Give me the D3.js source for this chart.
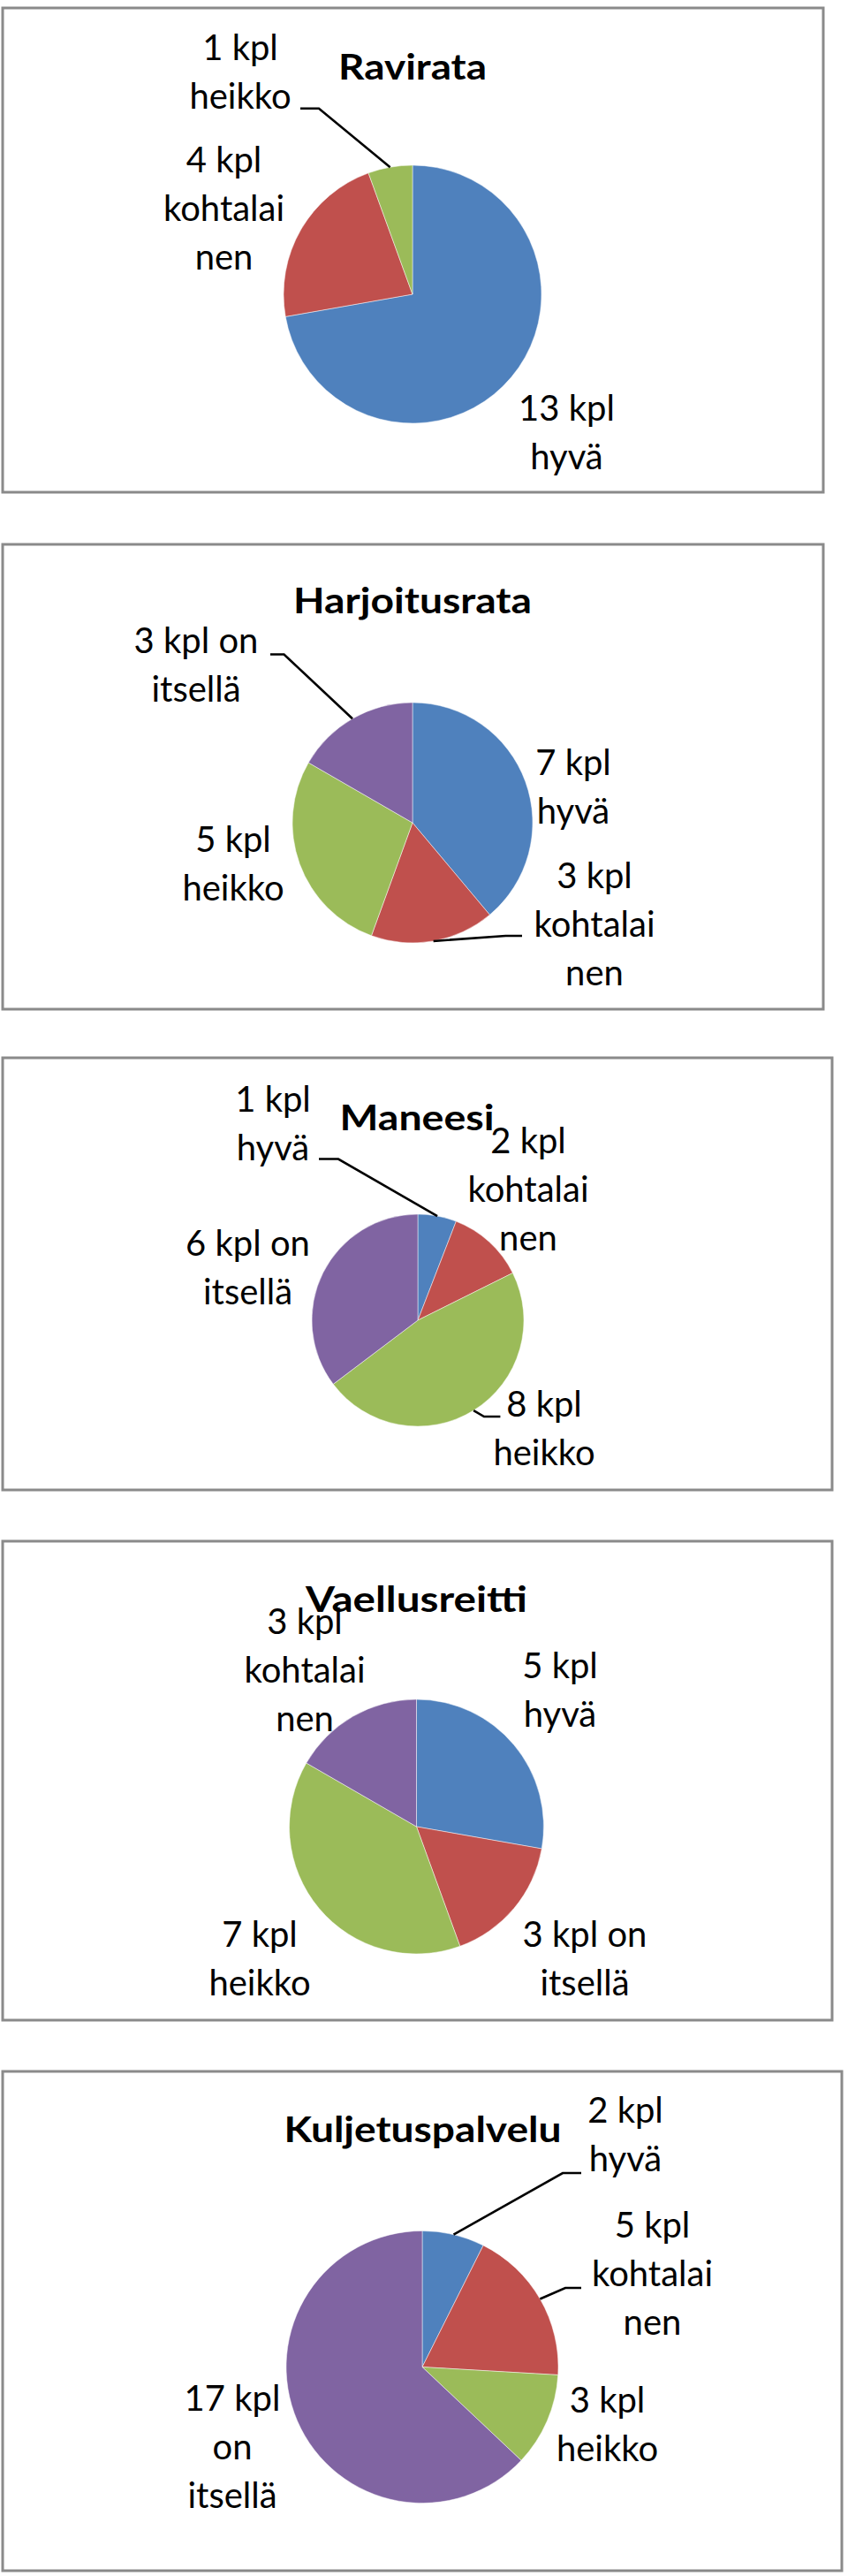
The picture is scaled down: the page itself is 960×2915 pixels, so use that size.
<!DOCTYPE html>
<html>
<head>
<meta charset="utf-8">
<script src="https://cdn.jsdelivr.net/npm/d3@7"></script>
<style>
  html, body { margin: 0; padding: 0; background: #ffffff; }
  svg { display: block; }
  text { font-family: Lato, "Open Sans", sans-serif; fill: #000; }
</style>
</head>
<body>
<div id="chart"></div>
<script>
// ---------------- DATA ----------------
const titles = ["Ravirata", "Harjoitusrata", "Maneesi", "Vaellusreitti", "Kuljetuspalvelu"];

const ravirataValues = [13, 4, 1];
const ravirataLabels = ["13 kpl\nhyvä", "4 kpl\nkohtalai\nnen", "1 kpl\nheikko"];

const harjoitusrataValues = [7, 3, 5, 3];
const harjoitusrataLabels = ["7 kpl\nhyvä", "3 kpl\nkohtalai\nnen", "5 kpl\nheikko", "3 kpl on\nitsellä"];

const maneesiValues = [1, 2, 8, 6];
const maneesiLabels = ["1 kpl\nhyvä", "2 kpl\nkohtalai\nnen", "8 kpl\nheikko", "6 kpl on\nitsellä"];

const vaellusreittiValues = [5, 3, 7, 3];
const vaellusreittiLabels = ["5 kpl\nhyvä", "3 kpl on\nitsellä", "7 kpl\nheikko", "3 kpl\nkohtalai\nnen"];

const kuljetusValues = [2, 5, 3, 17];
const kuljetusLabels = ["2 kpl\nhyvä", "5 kpl\nkohtalai\nnen", "3 kpl\nheikko", "17 kpl\non\nitsellä"];

const seriesValues = [ravirataValues, harjoitusrataValues, maneesiValues, vaellusreittiValues, kuljetusValues];
const seriesLabels = [ravirataLabels, harjoitusrataLabels, maneesiLabels, vaellusreittiLabels, kuljetusLabels];

// ---------------- LAYOUT ----------------
const W = 960, H = 2915;
const sliceColors = ["#4F81BD", "#C0504D", "#9BBB59", "#8064A2"];
const lineGap = 55;

// box: [x0, y0, x1, y1]; c: pie center; r: radius; titleY: title baseline; titleW: title width
// lab: per-slice [dx, dy] of label centre / first baseline relative to pie centre
// lead: per-slice leader [elbow, end] relative to pie centre (or null)
const layout = [
  { box: [3, 9, 932, 557], c: [467, 333], r: 146, titleY: 90, titleW: 168,
    lab: [[174.5, 143], [-213.5, -138], [-195, -265]],
    lead: [null, null, [[-106, -210.3], [-127, -210.3]]] },
  { box: [3, 616, 932, 1142], c: [467, 931], r: 136, titleY: 694, titleW: 270,
    lab: [[182, -54], [206, 73.5], [-203, 32.6], [-245, -192.3]],
    lead: [null, [[105.5, 128], [124, 128]], null, [[-145.5, -190.5], [-161, -190.5]]] },
  { box: [3, 1197, 942, 1686], c: [473, 1494], r: 120, titleY: 1278.6, titleW: 175,
    lab: [[-164, -236], [125, -189.4], [143, 109], [-192.5, -73.4]],
    lead: [[[-90, -182.5], [-112, -182.5]], null, [[75, 109], [93.4, 109]], null] },
  { box: [3, 1744, 942, 2286], c: [471.5, 2067], r: 144, titleY: 1823.8, titleW: 251,
    lab: [[162.5, -168.2], [190.5, 135.7], [-177.5, 135.7], [-126.5, -218.2]],
    lead: [null, null, null, null] },
  { box: [3, 2344, 953, 2909], c: [478, 2678.5], r: 154, titleY: 2423.7, titleW: 314,
    lab: [[230, -276.5], [260.5, -146.8], [209.5, 51.5], [-215, 49.5]],
    lead: [[[159, -219.5], [180, -219.5]], [[162, -89.5], [180, -89.5]], null, null] }
];
const titleCX = [467, 467, 472, 471.5, 478.5];

const svg = d3.select("#chart").append("svg")
  .attr("width", W).attr("height", H)
  .attr("viewBox", `0 0 ${W} ${H}`);

const color = d3.scaleOrdinal().domain([0, 1, 2, 3]).range(sliceColors);
const pie = d3.pie().sort(null).value(d => d);

seriesValues.forEach((vals, i) => {
  const L = layout[i];
  const g = svg.append("g");

  // frame
  g.append("rect")
    .attr("x", L.box[0]).attr("y", L.box[1])
    .attr("width", L.box[2] - L.box[0]).attr("height", L.box[3] - L.box[1])
    .attr("fill", "#fff").attr("stroke", "#8a8a8a").attr("stroke-width", 3);

  const arcs = pie(vals);
  const arc = d3.arc().innerRadius(0).outerRadius(L.r);
  const edge = d3.arc().innerRadius(L.r).outerRadius(L.r);

  const pg = g.append("g").attr("transform", `translate(${L.c[0]},${L.c[1]})`);
  pg.selectAll("path.slice").data(arcs).join("path")
    .attr("class", "slice")
    .attr("d", arc)
    .attr("fill", (d, j) => color(j))
    .attr("stroke", "#ffffff").attr("stroke-width", 0.8).attr("stroke-opacity", 0.6);

  // leader lines
  arcs.forEach((d, j) => {
    const ld = L.lead[j];
    if (!ld) return;
    const p0 = edge.centroid(d);
    pg.append("polyline")
      .attr("points", [p0, ld[0], ld[1]].map(p => p.join(",")).join(" "))
      .attr("fill", "none").attr("stroke", "#000").attr("stroke-width", 2.6);
  });

  // labels
  arcs.forEach((d, j) => {
    const lines = seriesLabels[i][j].split("\n");
    const t = pg.append("text")
      .attr("text-anchor", "middle")
      .attr("font-size", 40);
    lines.forEach((s, k) => {
      t.append("tspan")
        .attr("x", L.lab[j][0])
        .attr("y", L.lab[j][1] + k * lineGap)
        .text(s);
    });
  });

  // title
  g.append("text")
    .attr("x", titleCX[i]).attr("y", L.titleY)
    .attr("text-anchor", "middle")
    .attr("font-size", 40).attr("font-weight", "bold")
    .attr("textLength", L.titleW).attr("lengthAdjust", "spacingAndGlyphs")
    .text(titles[i]);
});
</script>
</body>
</html>
